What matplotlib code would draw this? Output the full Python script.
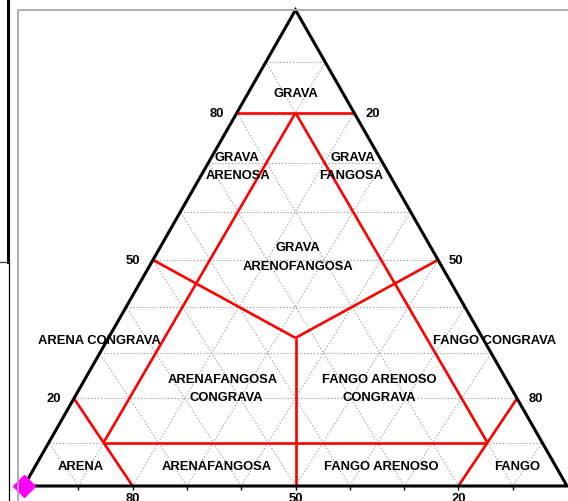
import matplotlib
matplotlib.use("Agg")
import matplotlib.pyplot as plt
from matplotlib.lines import Line2D

plt.rcParams['font.family'] = ['Liberation Sans', 'DejaVu Sans']

# ---------------- data ----------------
# grid levels (%) for the three components
grid_levels = [10, 20, 30, 40, 50, 60, 70, 80, 90]
# labelled values on each side
gravel_ticks = [80, 50, 20]      # left side (gravel %)
mud_ticks = [20, 50, 80]         # right side (mud %)
sand_ticks = [80, 50, 20]        # bottom side (sand %)
# class boundary segments, each end as (gravel, sand, mud) in %
c = 100.0 / 3.0
boundary_start = [(80, 20, 0), (80, 10, 10), (80, 10, 10), (10, 80, 10),
                  (20, 80, 0), (20, 0, 80), (50, 50, 0), (50, 0, 50), (c, c, c)]
boundary_end = [(80, 0, 20), (10, 80, 10), (10, 10, 80), (10, 10, 80),
                (0, 80, 20), (0, 20, 80), (c, c, c), (c, c, c), (0, 50, 50)]
# sample point(s)
sample_gravel = [0]
sample_sand = [100]
sample_mud = [0]
# class names
class_names = ["GRAVA", "GRAVA\nARENOSA", "GRAVA\nFANGOSA", "GRAVA\nARENOFANGOSA",
               "ARENA CONGRAVA", "FANGO CONGRAVA", "ARENAFANGOSA\nCONGRAVA",
               "FANGO ARENOSO\nCONGRAVA", "ARENA", "ARENAFANGOSA",
               "FANGO ARENOSO", "FANGO"]

# ---------------- layout ----------------
W, H = 568, 502
FS = 9.4
fig = plt.figure(figsize=(W / 100, H / 100), dpi=100)
fig.patch.set_facecolor('white')


def fx(px):
    return px / W


def fy(py):
    return 1 - py / H


# triangle occupies pixel box: base 24..567 at y=487, apex y=11
ax = fig.add_axes([fx(24), fy(487), (567 - 24) / W, (487 - 11) / H])
ax.set_xlim(0, 1)
ax.set_ylim(0, 1)
for sp in ax.spines.values():
    sp.set_visible(False)
ax.set_yticks([])

# slight vertical warp of the level spacing, as in the original drawing
WARP = 0.1


def tern(g, s, m):
    tot = float(g + s + m)
    g, s, m = g / tot, s / tot, m / tot
    h = g - WARP * g * (1 - g)
    frac = m / (m + s) if (m + s) > 0 else 0.5
    return h / 2.0 + frac * (1 - h), h


# dotted grid
grid_style = dict(color='#a0a0a0', lw=0.8, linestyle=(0, (1.2, 1.8)), zorder=1)
for L in grid_levels:
    for p0, p1 in [((L, 100 - L, 0), (L, 0, 100 - L)),
                   ((0, 100 - L, L), (100 - L, 0, L)),
                   ((0, L, 100 - L), (100 - L, L, 0))]:
        x0, y0 = tern(*p0)
        x1, y1 = tern(*p1)
        ax.plot([x0, x1], [y0, y1], **grid_style)

# red class boundaries
for p0, p1 in zip(boundary_start, boundary_end):
    x0, y0 = tern(*p0)
    x1, y1 = tern(*p1)
    ax.plot([x0, x1], [y0, y1], color='#ff0000', lw=1.9, zorder=3,
            solid_capstyle='butt')

# outline
vx, vy = zip(*[tern(0, 100, 0), tern(0, 0, 100), tern(100, 0, 0), tern(0, 100, 0)])
ax.plot(vx, vy, color='black', lw=2.2, zorder=4, solid_joinstyle='miter',
        clip_on=False)

# bottom ticks (sand %)
tick_pos = [tern(0, 100 - L, L)[0] for L in grid_levels]
tick_lab = [str(100 - L) if (100 - L) in sand_ticks else '' for L in grid_levels]
ax.set_xticks(tick_pos)
ax.set_xticklabels(tick_lab, fontsize=FS, fontweight='bold')
ax.tick_params(axis='x', direction='out', length=3, width=1, pad=1.5,
               color='black')

# side labels
for v in gravel_ticks:
    x, y = tern(v, 100 - v, 0)
    ax.annotate(str(v), (x, y), xytext=(-9, 0), textcoords='offset points',
                ha='right', va='center', fontsize=FS, fontweight='bold')
for v in mud_ticks:
    x, y = tern(100 - v, 0, v)
    ax.annotate(str(v), (x, y), xytext=(8, 0), textcoords='offset points',
                ha='left', va='center', fontsize=FS, fontweight='bold')

# sample point
for g, s, m in zip(sample_gravel, sample_sand, sample_mud):
    x, y = tern(g, s, m)
    ax.plot([x], [y], marker='D', ms=11, color='#ff00ff', mec='#ff00ff',
            zorder=6, clip_on=False, linestyle='none')

# class labels (pixel positions of each line centre)
label_pos = [[(296, 94)], [(237, 158), (238, 176)], [(353, 158), (351, 176)],
             [(298, 248), (298, 267)], [(99, 341)], [(495, 341)],
             [(223, 380), (226, 398)], [(379, 380), (379, 398)],
             [(81, 467)], [(217, 467)], [(381, 467)], [(517, 467)]]
for name, poss in zip(class_names, label_pos):
    for line, (px, py) in zip(name.split('\n'), poss):
        fig.text(fx(px), fy(py), line, ha='center', va='center', fontsize=FS,
                 fontweight='bold', zorder=5)

# window frame artefacts
fig.add_artist(Line2D([fx(18), fx(18), fx(W + 2)], [fy(H + 2), fy(11), fy(11)],
                      color='#a8a8a8', lw=1.3))
fig.add_artist(Line2D([fx(8), fx(8)], [fy(0), fy(263)], color='black', lw=2.2))
fig.add_artist(Line2D([fx(8.5), fx(8.5)], [fy(263), fy(H)], color='black', lw=0.9))
fig.add_artist(Line2D([fx(0), fx(8.5)], [fy(263), fy(263)], color='#333333', lw=0.9))

fig.savefig('out.png', dpi=100)
